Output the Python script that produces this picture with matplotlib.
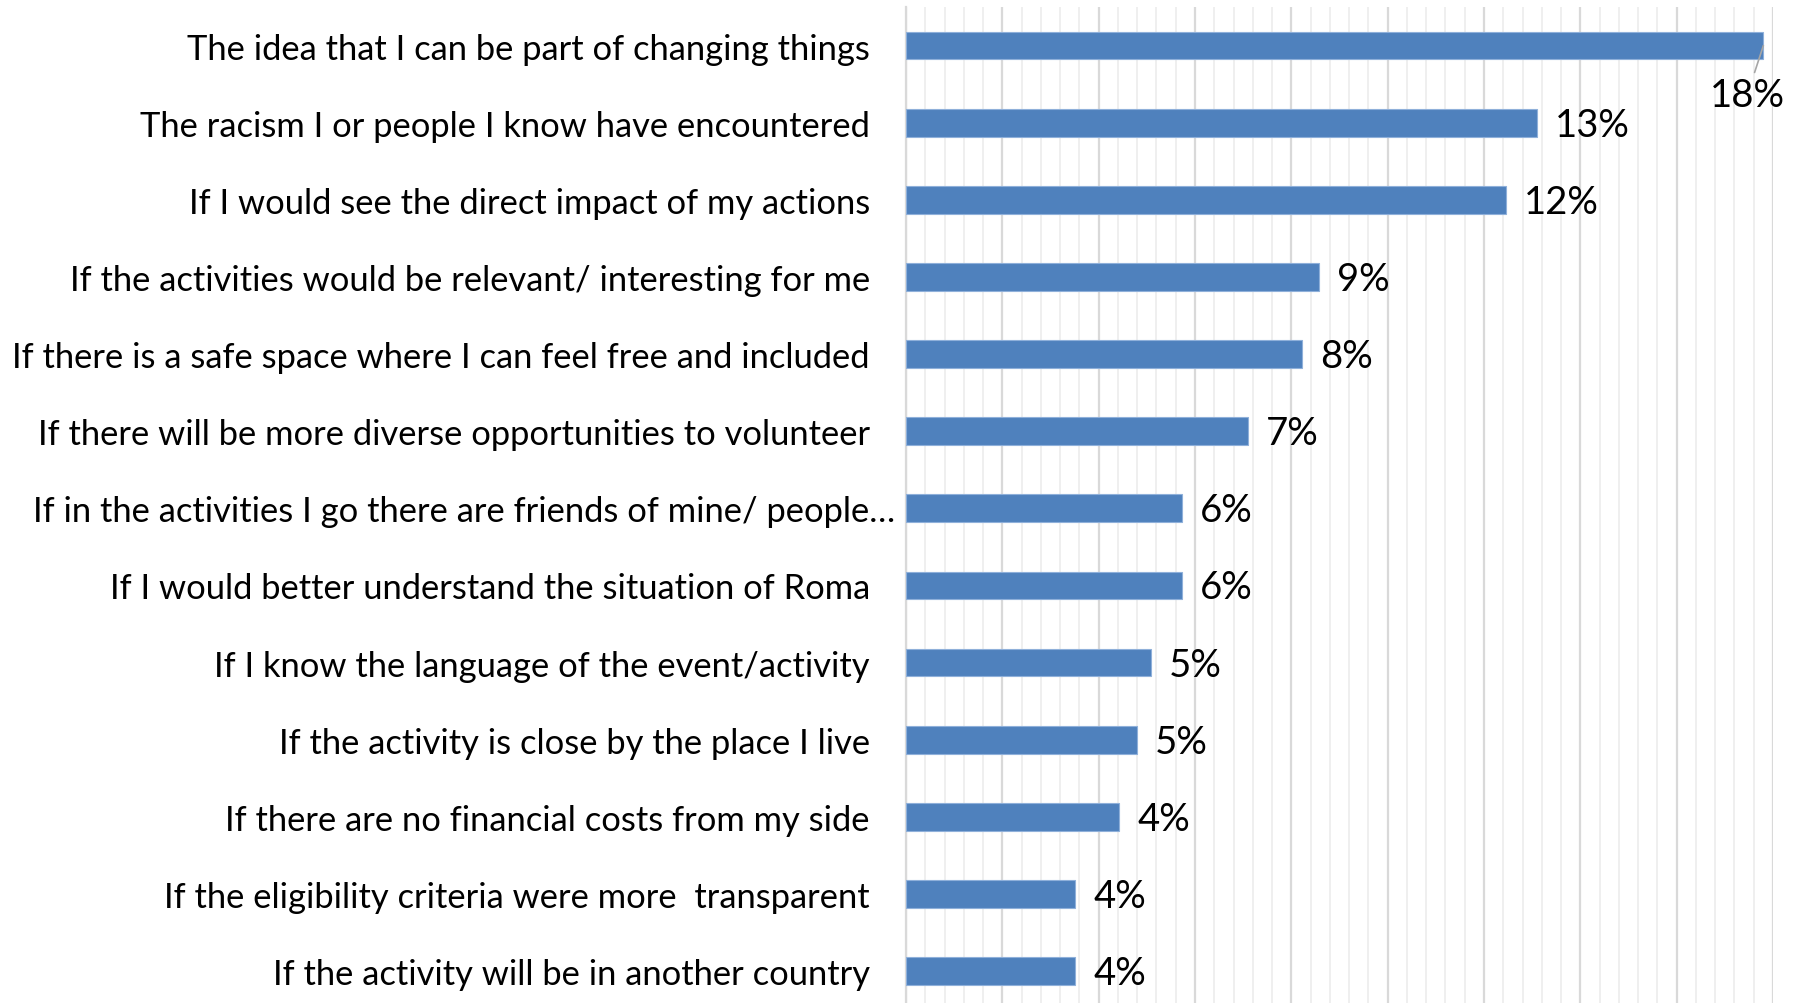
import matplotlib
matplotlib.use("Agg")
import matplotlib.pyplot as plt
from matplotlib.ticker import MultipleLocator
from matplotlib.transforms import ScaledTranslation

# values (shares of respondents)
categories = [
    "The idea that I can be part of changing things",
    "The racism I or people I know have encountered",
    "If I would see the direct impact of my actions",
    "If the activities would be relevant/ interesting for me",
    "If there is a safe space where I can feel free and included",
    "If there will be more diverse opportunities to volunteer",
    "If in the activities I go there are friends of mine/ people\u2026",
    "If I would better understand the situation of Roma",
    "If I know the language of the event/activity",
    "If the activity is close by the place I live",
    "If there are no financial costs from my side",
    "If the eligibility criteria were more  transparent",
    "If the activity will be in another country",
]
values = [0.178, 0.131, 0.1246, 0.0858, 0.0822, 0.071, 0.0572, 0.0572,
          0.0508, 0.048, 0.0443, 0.0351, 0.0351]
value_labels = ["18%", "13%", "12%", "9%", "8%", "7%", "6%", "6%",
                "5%", "5%", "4%", "4%", "4%"]

BAR_COLOR = "#4F81BD"
FONT = "Lato"

W, H, DPI = 1803, 1004, 100
fig = plt.figure(figsize=(W / DPI, H / DPI), dpi=DPI)
# plot area in pixels: x 906..1773, y 8..1010
ax = fig.add_axes([906 / W, -6.6 / H, 867 / W, (1010.6 - 8) / H])

ypos = list(range(len(categories)))
ax.barh(ypos, values, height=0.36, color=BAR_COLOR,
        edgecolor="#8FB0DA", linewidth=0.8, zorder=3)

ax.set_xlim(0, 0.18)
ax.set_ylim(len(categories) - 0.5, -0.5)

ax.xaxis.set_major_locator(MultipleLocator(0.02))
ax.xaxis.set_minor_locator(MultipleLocator(0.004))
ax.grid(axis="x", which="major", color="#D9D9D9", linewidth=1.6, zorder=0)
ax.grid(axis="x", which="minor", color="#EEEEEE", linewidth=1.3, zorder=0)
ax.tick_params(axis="x", which="both", length=0, labelbottom=False)

for s in ["top", "right", "bottom"]:
    ax.spines[s].set_visible(False)
ax.spines["left"].set_color("#D9D9D9")
ax.spines["left"].set_linewidth(1.6)

ax.set_yticks(ypos)
ax.set_yticklabels(categories, fontsize=24.8, family=FONT, color="black")
ax.tick_params(axis="y", length=0, pad=26)
# truncated label sits further right in the original
ell = ax.get_yticklabels()[6]
ell.set_transform(ell.get_transform() + ScaledTranslation(25 / DPI, 0, fig.dpi_scale_trans))

for i, (v, lab) in enumerate(zip(values, value_labels)):
    if i == 0:
        ax.annotate(lab, xy=(v, i), xytext=(-16, -49), textcoords="offset pixels",
                    ha="center", va="center", fontsize=27.5, family=FONT,
                    arrowprops=dict(arrowstyle="-", color="#A6A6A6", lw=1.2,
                                    shrinkA=1, shrinkB=0))
    else:
        ax.annotate(lab, xy=(v, i), xytext=(18, -2), textcoords="offset pixels",
                    ha="left", va="center", fontsize=27.5, family=FONT)

fig.savefig("out.png", dpi=DPI)
